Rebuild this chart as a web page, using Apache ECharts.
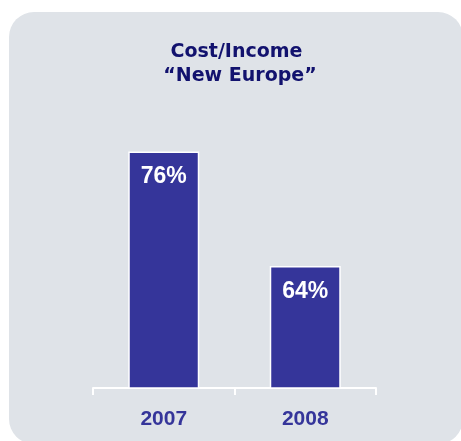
<!DOCTYPE html>
<html>
<head>
<meta charset="utf-8">
<script src="https://cdn.jsdelivr.net/npm/echarts@6/dist/echarts.min.js"></script>
<style>
html,body{margin:0;padding:0;background:#ffffff;}
#chart{width:461px;height:441px;}
</style>
</head>
<body>
<div id="chart"></div>
<script>
const categories = ['2007', '2008'];
const costIncome = [76, 64];
const titleLines = ['Cost/Income', '\u201CNew Europe\u201D'];

const chart = echarts.init(document.getElementById('chart'), null, {renderer: 'canvas'});
chart.setOption({
  backgroundColor: '#ffffff',
  animation: false,
  graphic: [
    {type: 'rect', z: -10, shape: {x: 9, y: 12, width: 454, height: 432, r: 25}, style: {fill: '#dfe3e8'}},
    {type: 'text', z: 10, x: 236.5, y: 52.5, style: {text: titleLines[0], fill: '#12126e', font: 'bold 19px "DejaVu Sans"', textAlign: 'center', textVerticalAlign: 'middle'}},
    {type: 'text', z: 10, x: 240, y: 76, style: {text: titleLines[1], fill: '#12126e', font: 'bold 19px "DejaVu Sans"', textAlign: 'center', textVerticalAlign: 'middle'}}
  ],
  grid: {left: 93, right: 85, top: 113.4, bottom: 53, containLabel: false},
  xAxis: {
    type: 'category',
    data: categories,
    boundaryGap: true,
    axisLine: {show: true, lineStyle: {color: '#ffffff', width: 2}},
    axisTick: {show: true, length: 7, lineStyle: {color: '#ffffff', width: 2}},
    axisLabel: {color: '#35359a', fontSize: 21, fontWeight: 'bold', fontFamily: '"Liberation Sans", Arial, sans-serif', margin: 21}
  },
  yAxis: {
    type: 'value', min: 51.2, max: 80, show: false,
    splitLine: {show: false}
  },
  series: [{
    type: 'bar',
    data: costIncome,
    barWidth: 71,
    itemStyle: {color: '#35359a', borderColor: '#ffffff', borderWidth: 1.5},
    label: {
      show: true, position: 'insideTop', distance: 14,
      formatter: p => p.value + '%',
      color: '#ffffff', fontSize: 23, fontWeight: 'bold', fontFamily: '"Liberation Sans", Arial, sans-serif'
    }
  }]
});
</script>
</body>
</html>
